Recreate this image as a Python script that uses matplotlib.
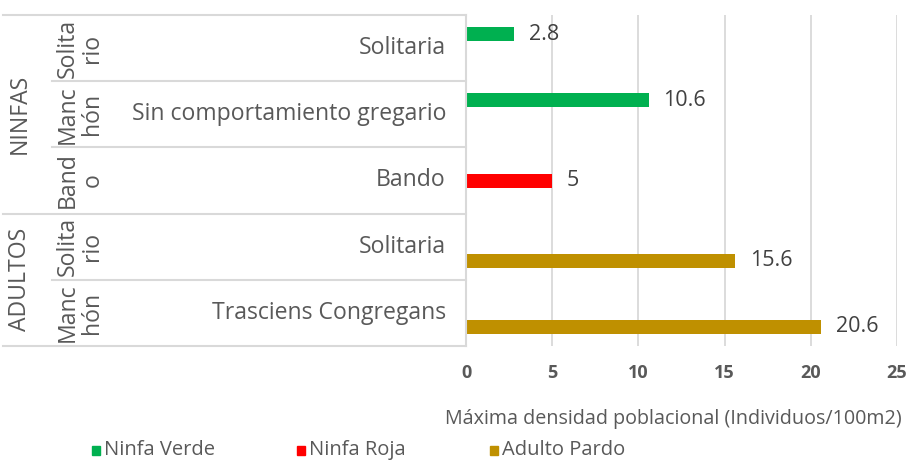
import matplotlib
matplotlib.use("Agg")
import matplotlib.pyplot as plt
from matplotlib.lines import Line2D
from matplotlib.patches import Rectangle
import matplotlib.transforms as mtransforms

# ---------------- data ----------------
group_labels = ["NINFAS", "ADULTOS"]
group_sizes = [3, 2]
sub_labels = ["Solita\nrio", "Manc\nhón", "Band\no", "Solita\nrio", "Manc\nhón"]
categories = ["Solitaria", "Sin comportamiento gregario", "Bando", "Solitaria", "Trasciens Congregans"]
series_names = ["Ninfa Verde", "Ninfa Roja", "Adulto Pardo"]
ninfa_verde = [2.8, 10.6, None, None, None]
ninfa_roja = [None, None, 5, None, None]
adulto_pardo = [None, None, None, 15.6, 20.6]
series_values = [ninfa_verde, ninfa_roja, adulto_pardo]
colors = ["#00B050", "#FF0000", "#BF9000"]
xticks = [0, 5, 10, 15, 20, 25]
xlabel = "Máxima densidad poblacional (Individuos/100m2)"

# ---------------- style ----------------
FONT = ["Open Sans", "DejaVu Sans"]
plt.rcParams["font.family"] = FONT
TXT = "#595959"
GRID = "#D9D9D9"
CAT_FS = 16.6

W, H = 907, 462
fig = plt.figure(figsize=(W / 100, H / 100), dpi=100)

def fx(px):
    return px / W

def fy(py):
    return 1 - py / H

x0, x1, yt, yb = 466, 897, 15, 346
ax = fig.add_axes([fx(x0), fy(yb), fx(x1) - fx(x0), fy(yt) - fy(yb)])
n = len(categories)
ax.set_xlim(0, 25)
ax.set_ylim(n, 0)
for s in ax.spines.values():
    s.set_visible(False)
ax.set_yticks([])
ax.set_xticks(xticks)
ax.set_xticklabels([str(t) for t in xticks], fontsize=13, fontweight="bold", color=TXT)
ax.tick_params(axis="x", length=0, pad=13)
for t in xticks[1:]:
    ax.axvline(t, color=GRID, lw=1.3, zorder=0)

bw = 14 / ((yb - yt) / n)
for k, (vals, c) in enumerate(zip(series_values, colors)):
    for i, v in enumerate(vals):
        if v is None:
            continue
        yc = i + 0.5 + (k - 1) * bw
        ax.barh(yc, v, height=bw, color=c, zorder=2)
        ax.text(v + 0.85, yc, f"{v:g}", va="center", ha="left", fontsize=15.5, color="#404040")

# ---------------- multi-level category table ----------------
tr = mtransforms.blended_transform_factory(fig.transFigure, ax.transData)

def hline(y, xa, xb):
    fig.add_artist(Line2D([fx(xa), fx(xb)], [y, y], transform=tr, color=GRID, lw=1.5, clip_on=False))

group_bounds = [0]
for g in group_sizes:
    group_bounds.append(group_bounds[-1] + g)
for i in range(n + 1):
    if i in group_bounds:
        hline(i, 3, x0)
    else:
        hline(i, 52, x0)
fig.add_artist(Line2D([fx(x0), fx(x0)], [0, n], transform=tr, color=GRID, lw=1.5, clip_on=False))

for i, lab in enumerate(categories):
    fig.text(fx(446), i + 0.5, lab, transform=tr, ha="right", va="center",
             fontsize=CAT_FS, color=TXT)
for i, lab in enumerate(sub_labels):
    fig.text(fx(80), i + 0.5, lab, transform=tr, ha="center", va="center",
             rotation=90, fontsize=CAT_FS, color=TXT, linespacing=1.05, multialignment="center")
for gi, lab in enumerate(group_labels):
    yc = (group_bounds[gi] + group_bounds[gi + 1]) / 2
    fig.text(fx(20), yc, lab, transform=tr, ha="center", va="center",
             rotation=90, fontsize=CAT_FS, color=TXT)

fig.text(fx(673), fy(419), xlabel, ha="center", va="center", fontsize=14.2, color=TXT)

leg_x = [92, 297, 490]
for name, c, lx in zip(series_names, colors, leg_x):
    fig.add_artist(Rectangle((fx(lx), fy(455)), fx(8), 9 / H, color=c, transform=fig.transFigure))
    fig.text(fx(lx + 12), fy(450), name, ha="left", va="center", fontsize=14.5, color=TXT)

fig.savefig("out.png", dpi=100)
